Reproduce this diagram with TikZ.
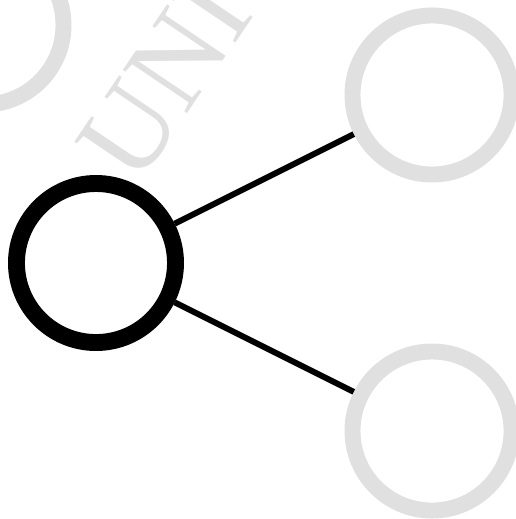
\documentclass[tikz,border=0pt]{standalone}
\usepackage{tikz}
\usepackage{fontspec}
\setmainfont{Liberation Serif}

\definecolor{faded}{RGB}{224,224,224}

\begin{document}
\begin{tikzpicture}[
    ring/.style={circle, draw, inner sep=0pt, minimum size=2.84cm},
    active/.style={ring, draw=black, line width=8.6pt},
    ghost/.style={ring, draw=faded, line width=8.1pt},
    link/.style={line width=3pt}
  ]
    \useasboundingbox (-1.714,-4.571) rectangle (7.482,4.696);

    % Wasserzeichen im Hintergrund
    \node[text=faded, font=\fontsize{60}{64}\selectfont, rotate=56,
          anchor=base west, inner sep=0pt] (mark) at (0.74,1.34) {UNI};

    % angeschnittener Knoten oben links
    \node[ghost] (prev) at (-2,4.25) {};

    % aktueller Knoten (schwarz, dick)
    \node[active] (root) at (0,0) {};

    % Kindknoten rechts (ausgegraut)
    \node[ghost] (up) at (6,3) {};
    \node[ghost] (down) at (6,-3) {};

    % Kanten zu den Kindern
    \draw[link] (root) -- (up);
    \draw[link] (root) -- (down);

\end{tikzpicture}
\end{document}
